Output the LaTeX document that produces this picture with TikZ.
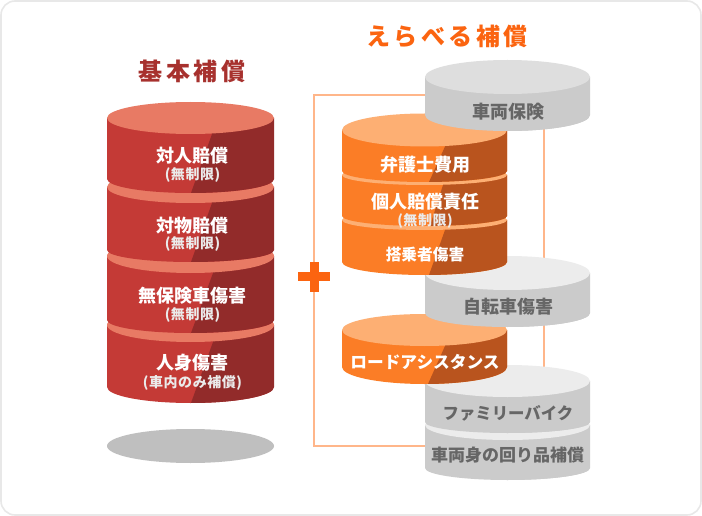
\documentclass[tikz,border=0pt]{standalone}
\usepackage{fontspec}
\setmainfont{Noto Sans CJK JP}
\definecolor{redbody}{HTML}{C43A36}
\definecolor{reddark}{HTML}{922B2A}
\definecolor{redtop}{HTML}{E87A64}
\definecolor{orbody}{HTML}{FB7D26}
\definecolor{ordark}{HTML}{B9541E}
\definecolor{ortop}{HTML}{FDAF73}
\definecolor{grbody}{HTML}{CBCBCB}
\definecolor{grdark}{HTML}{CBCBCB}
\definecolor{grtop}{HTML}{ECECEC}
\definecolor{gqbody}{HTML}{CBCBCB}
\definecolor{gqdark}{HTML}{CBCBCB}
\definecolor{gqtop}{HTML}{DEDEDE}
\definecolor{frameline}{HTML}{FFB68A}
\definecolor{plusor}{HTML}{FB6410}
\definecolor{gtext}{HTML}{666666}
\newcommand{\stackdisc}[9]{% cx rx topcy topry end botry xa xb colourprefix
  \begin{scope}
    \path[clip] (#1-#2,#3) -- (#1-#2,#5) arc[start angle=180,end angle=360,x radius=#2pt,y radius=#6pt] -- (#1+#2,#3) -- cycle;
    \fill[#9body] (#1-#2-1,#3-1) rectangle (#1+#2+1,#5+#6+1);
    \fill[#9dark] (#7,#3-1) -- (#7,#3+#4) -- (#8,#5+#6) -- (#1+#2+1,#5+#6+1) -- (#1+#2+1,#3-1) -- cycle;
  \end{scope}
  \fill[#9top] (#1,#3) ellipse[x radius=#2pt,y radius=#4pt];
}
\tikzset{
  x=1pt,y=-1pt,
  lbl/.style={font=\bfseries\fontsize{#1}{#1}\selectfont,text=white,inner sep=0pt},
  glbl/.style={lbl=#1,text=gtext},
  sublbl/.style={font=\bfseries\fontsize{14}{14}\selectfont\addfontfeature{LetterSpace=4},text=white!92!black,inner sep=0pt},
  edge/.style={draw=frameline,line width=1.5pt},
  title/.style={font=\bfseries\fontsize{24}{24}\selectfont\addfontfeature{LetterSpace=14},inner sep=0pt}
}
\begin{document}
\begin{tikzpicture}
\useasboundingbox (0,0) rectangle (702,516);
\draw[draw=black!9,line width=1.6pt,fill=white,rounded corners=14pt] (1,1) rectangle (701,515);

% base shadow
\fill[black!25] (190.5,446) ellipse[x radius=83.5pt,y radius=17pt];

% red stack
\stackdisc{190.5}{83.5}{325}{17}{387}{16}{213}{191}{red}
\stackdisc{190.5}{83.5}{256}{17}{320}{13}{213}{191}{red}
\stackdisc{190.5}{83.5}{187}{16}{250}{12}{212}{191}{red}
\stackdisc{190.5}{83.5}{118}{16}{179}{14}{212}{191}{red}

% frame
\coordinate (fa) at (430,95);
\coordinate (fb) at (314,95);
\coordinate (fc) at (314,446);
\coordinate (fd) at (430,446);
\coordinate (fe) at (544,120);
\coordinate (ff) at (544,370);
\draw[edge] (fa) -- (fb) -- (fc) -- (fd);
\draw[edge] (fe) -- (ff);

% gray and orange stacks
\stackdisc{507.5}{82.5}{425}{15}{468}{12}{500}{500}{gr}
\stackdisc{507.5}{82.5}{381}{16}{422}{11}{500}{500}{gr}
\stackdisc{424.5}{82.5}{330}{16}{367}{17}{445}{428}{or}
\stackdisc{507.5}{82.5}{273}{17}{313}{14}{500}{500}{gr}
\stackdisc{424.5}{82.5}{220}{10}{262}{13}{445}{429}{or}
\stackdisc{424.5}{82.5}{175}{10}{216}{10}{443}{430}{or}
\stackdisc{424.5}{82.5}{130}{16.5}{171}{11}{445}{429}{or}
\stackdisc{507.5}{82.5}{77}{17}{115}{16}{500}{500}{gq}

% plus
\fill[plusor] (298,272) rectangle (330,281);
\fill[plusor] (309.5,262) rectangle (318.5,292);

% titles
\node[title,text=redbody!85!black] (t1) at (192,71) {基本補償};
\node[title,text=plusor] (t2) at (447,36) {えらべる補償};

% red labels
\node[lbl=18] (a1) at (192.5,156) {対人賠償};
\node[sublbl] (a1s) at (192.5,175) {(無制限)};
\node[lbl=18] (a2) at (192.5,226) {対物賠償};
\node[sublbl] (a2s) at (192.5,244) {(無制限)};
\node[lbl=18] (a3) at (192.5,296) {無保険車傷害};
\node[sublbl] (a3s) at (192.5,315) {(無制限)};
\node[lbl=18] (a4) at (192.5,363) {人身傷害};
\node[sublbl] (a4s) at (192.5,383) {(車内のみ補償)};

% orange labels
\node[lbl=18] (b1) at (425,165) {弁護士費用};
\node[lbl=18] (b2) at (425,202) {個人賠償責任};
\node[sublbl] (b2s) at (425,221) {(無制限)};
\node[lbl=15.7] (b3) at (425,255) {搭乗者傷害};
\node[lbl=16.7] (b4) at (425,362.5) {ロードアシスタンス};

% gray labels
\node[glbl=18] (c1) at (508,111.5) {車両保険};
\node[glbl=18] (c2) at (508,306.5) {自転車傷害};
\node[glbl=16.4] (c3) at (508,413.5) {ファミリーバイク};
\node[glbl=17] (c4) at (507.5,455.5) {車両身の回り品補償};
\end{tikzpicture}
\end{document}
